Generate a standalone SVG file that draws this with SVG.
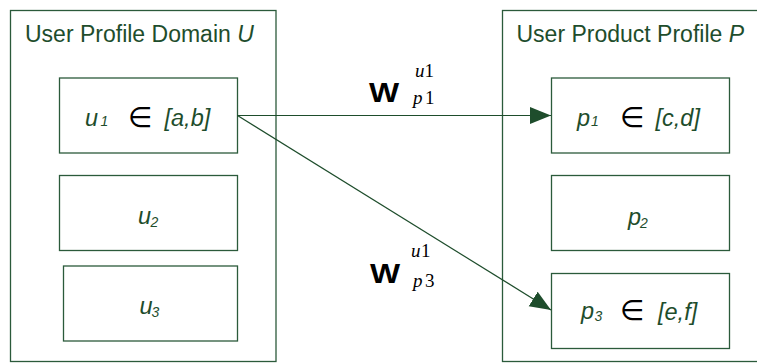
<svg xmlns="http://www.w3.org/2000/svg" width="757" height="363" viewBox="0 0 757 363">
  <defs>
    <style>
      .frame { fill: none; stroke: #2b5a3b; stroke-width: 1.3; }
      .box { fill: #ffffff; stroke: #2b5a3b; stroke-width: 1.3; }
      .title { font-family: "Liberation Sans", Arial, sans-serif; font-size: 23px; fill: #1e4d2c; }
      .lbl { font-family: "Liberation Sans", Arial, sans-serif; font-size: 23.5px; font-style: italic; fill: #1e4d2c; }
      .sub { font-size: 14px; }
      .elem { font-family: "DejaVu Sans", sans-serif; font-style: normal; font-size: 28px; fill: #000000; }
      .w { font-family: "Liberation Sans", Arial, sans-serif; font-weight: bold; font-size: 27.5px; fill: #000000; }
      .idx { font-family: "Liberation Serif", "Times New Roman", serif; font-size: 19px; fill: #000000; }
      .idx .v { font-style: italic; }
      .edge { fill: none; stroke: #1e4d2c; stroke-width: 1.2; }
    </style>
    <marker id="arrow" markerUnits="userSpaceOnUse" markerWidth="22" markerHeight="18" refX="21" refY="8.5" orient="auto">
      <path d="M0,0 L21,8.5 L0,17 z" fill="#1e4d2c"/>
    </marker>
  </defs>

  <!-- domain frames -->
  <g id="domain-U">
    <rect class="frame" x="10.5" y="10.5" width="265.5" height="351"/>
    <text class="title" x="25" y="42" font-size="23.8">User Profile Domain <tspan font-style="italic">U</tspan></text>
  </g>
  <g id="domain-P">
    <rect class="frame" x="502.5" y="10.5" width="300" height="351"/>
    <text class="title" x="516.5" y="42">User Product Profile <tspan font-style="italic">P</tspan></text>
  </g>

  <!-- user profile attributes -->
  <g id="u1">
    <rect class="box" x="59.5" y="78" width="178" height="75"/>
    <text class="lbl" y="126"><tspan x="85">u</tspan><tspan class="sub" x="100.5">1</tspan><tspan class="elem" x="128" dy="1">∈</tspan><tspan x="164.5" dy="-1">[a,b]</tspan></text>
  </g>
  <g id="u2">
    <rect class="box" x="59.5" y="175.5" width="178" height="75"/>
    <text class="lbl" y="224"><tspan x="138">u</tspan><tspan class="sub" x="150.5" dy="2.5">2</tspan></text>
  </g>
  <g id="u3">
    <rect class="box" x="63.5" y="266" width="174" height="75"/>
    <text class="lbl" y="314"><tspan x="139.5">u</tspan><tspan class="sub" x="151.5" dy="2.5">3</tspan></text>
  </g>

  <!-- product profile attributes -->
  <g id="p1">
    <rect class="box" x="551.5" y="78" width="178" height="75"/>
    <text class="lbl" y="126"><tspan x="577">p</tspan><tspan class="sub" x="591">1</tspan><tspan class="elem" x="620" dy="1">∈</tspan><tspan x="655.5" dy="-1">[c,d]</tspan></text>
  </g>
  <g id="p2">
    <rect class="box" x="551.5" y="175.5" width="178" height="75"/>
    <text class="lbl" y="225"><tspan x="628">p</tspan><tspan class="sub" x="640" dy="2.5">2</tspan></text>
  </g>
  <g id="p3">
    <rect class="box" x="551.5" y="273.5" width="178" height="75"/>
    <text class="lbl" y="319"><tspan x="581">p</tspan><tspan class="sub" x="594.5" dy="1.5">3</tspan><tspan class="elem" x="620" dy="-0.5">∈</tspan><tspan x="658">[e,f]</tspan></text>
  </g>

  <!-- weighted mappings -->
  <g id="connectors">
    <line class="edge" x1="237.5" y1="115.5" x2="551" y2="115.5" marker-end="url(#arrow)"/>
    <line class="edge" x1="237.5" y1="115.5" x2="551" y2="310" marker-end="url(#arrow)"/>
    <g id="w-p1">
      <text class="w" transform="translate(369,101.5) scale(1.16,1)">W</text>
      <text class="idx" y="77"><tspan class="v" x="415">u</tspan><tspan x="424.5">1</tspan></text>
      <text class="idx" y="103.5"><tspan class="v" x="413">p</tspan><tspan x="425">1</tspan></text>
    </g>
    <g id="w-p3">
      <text class="w" transform="translate(370,282.5) scale(1.16,1)">W</text>
      <text class="idx" y="257"><tspan class="v" x="411">u</tspan><tspan x="421">1</tspan></text>
      <text class="idx" y="287"><tspan class="v" x="413">p</tspan><tspan x="425">3</tspan></text>
    </g>
  </g>
</svg>
